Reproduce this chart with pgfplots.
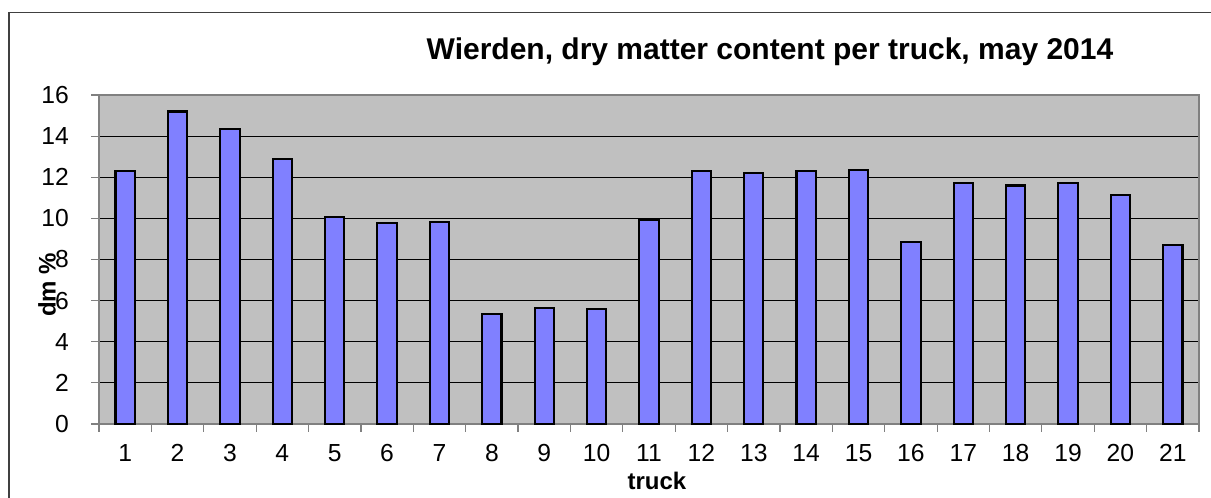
\documentclass[border=0pt]{standalone}
\usepackage{pgfplots}
\pgfplotsset{compat=1.18}
\usepackage{fontspec}
\setmainfont{Liberation Sans}
\definecolor{plotbg}{HTML}{C0C0C0}
\definecolor{barfill}{HTML}{8080FF}
\definecolor{framegray}{HTML}{404040}
\definecolor{axgray}{HTML}{808080}
\begin{document}
\begin{tikzpicture}[x=0.75pt,y=0.75pt]
\useasboundingbox (0,0) rectangle (1211,498);
\draw[framegray, line width=0.9pt] (9,-10) -- (9,485.5) -- (1230,485.5);
\begin{axis}[
  at={(74.25pt,55.5pt)}, anchor=south west,
  scale only axis, width=825pt, height=246.75pt,
  xmin=0.5, xmax=21.5, ymin=0, ymax=16,
  xtick={1,...,21}, ytick={0,2,...,16},
  minor xtick={0.5,1.5,...,21.5},
  major x tick style={draw=none},
  tick align=outside, major tick length=6pt, minor tick length=6pt,
  every tick/.style={axgray, line width=0.9pt},
  tick pos=left,
  axis background/.style={fill=plotbg},
  axis line style={axgray, line width=1.1pt},
  ymajorgrids, major grid style={black, line width=0.75pt},
  /pgf/number format/assume math mode=true,
  tick label style={font=\fontsize{18.5}{20}\selectfont},
  xticklabel style={anchor=center, inner sep=0pt, yshift=-15.75pt},
  yticklabel style={anchor=east, inner sep=0pt, xshift=-16.5pt},
  ybar, bar width=14.5pt,
  clip=false,
]
\addplot[fill=barfill, draw=black, line width=1.6pt] coordinates {
(1,12.3) (2,15.2) (3,14.35) (4,12.9) (5,10.08) (6,9.79) (7,9.84)
(8,5.33) (9,5.63) (10,5.58) (11,9.94) (12,12.32) (13,12.2) (14,12.3)
(15,12.34) (16,8.87) (17,11.7) (18,11.6) (19,11.7) (20,11.12) (21,8.72)};
\end{axis}
\node[font=\bfseries\fontsize{22.5}{24}\selectfont] at (770,446) {Wierden, dry matter content per truck, may 2014};
\node[font=\bfseries\fontsize{18}{20}\selectfont, rotate=90] at (47,213) {dm \%};
\node[font=\bfseries\fontsize{18}{20}\selectfont] at (657,17) {truck};
\end{tikzpicture}
\end{document}
